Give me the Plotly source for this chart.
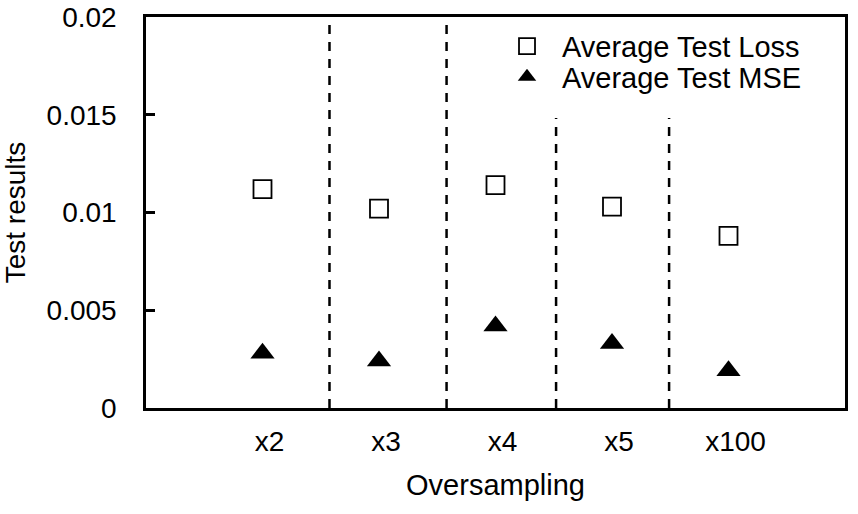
import plotly.graph_objects as go

categories = ["x2", "x3", "x4", "x5", "x100"]
avg_test_loss = [0.0112, 0.0102, 0.0114, 0.0103, 0.0088]
avg_test_mse = [0.0028, 0.0024, 0.0042, 0.0033, 0.0019]
y_tick_vals = [0, 0.005, 0.01, 0.015, 0.02]
y_tick_text = ["0", "0.005", "0.01", "0.015", "0.02"]
# separator positions (between categories, in category units) and their top y
separators_x = [1.575, 2.58, 3.52, 4.49]
separators_top = [0.02, 0.02, 0.01483, 0.01483]

xpos = list(range(1, len(categories) + 1))
FONT = "Liberation Sans, Arial, sans-serif"

fig = go.Figure()
fig.add_trace(go.Scatter(
    x=xpos, y=avg_test_loss, mode="markers", name="Average Test Loss",
    marker=dict(symbol="square-open", size=18, color="black", line=dict(width=1.8, color="black")),
    legend="legend",
))
fig.add_trace(go.Scatter(
    x=xpos, y=avg_test_mse, mode="markers", name="Average Test MSE",
    marker=dict(symbol="triangle-up", size=21, color="black", line=dict(width=0)),
    legend="legend2",
))

for sx, st in zip(separators_x, separators_top):
    fig.add_shape(type="line", xref="x", yref="y", x0=sx, x1=sx, y0=0, y1=st,
                  line=dict(color="black", width=2.5, dash="9px,8px"), layer="below")

legend_common = dict(
    font=dict(family=FONT, size=29, color="black"),
    bgcolor="rgba(0,0,0,0)", borderwidth=0, xanchor="left", yanchor="middle",
    itemwidth=60, itemclick=False,
)
fig.update_layout(
    width=858, height=514,
    margin=dict(l=146, r=13, t=17, b=106),
    paper_bgcolor="white", plot_bgcolor="white",
    font=dict(family=FONT, size=28, color="black"),
    showlegend=True,
    legend=dict(x=0.495, y=0.925, **legend_common),
    legend2=dict(x=0.495, y=0.847, **legend_common),
    xaxis=dict(
        range=[0, 6], tickvals=xpos, ticktext=categories, automargin=False,
        showline=True, linecolor="black", linewidth=2.5, mirror=True,
        showgrid=False, zeroline=False, ticks="",
        ticklabelstandoff=7, ticklabelshift=7, ticklabeloverflow="allow",
        tickfont=dict(family=FONT, size=28, color="black"),
        title=dict(text="Oversampling", font=dict(family=FONT, size=29, color="black"), standoff=19),
    ),
    yaxis=dict(
        range=[0, 0.02], tickvals=y_tick_vals, ticktext=y_tick_text, automargin=False,
        showline=True, linecolor="black", linewidth=2.5, mirror=True,
        showgrid=False, zeroline=False, ticks="inside", ticklen=9, tickwidth=2.5, tickcolor="black",
        ticklabelstandoff=21, ticklabeloverflow="allow",
        tickfont=dict(family=FONT, size=28, color="black"),
        title=dict(text="Test results", font=dict(family=FONT, size=28, color="black"), standoff=20),
    ),
)

fig.write_html("out.html", config={"displayModeBar": False},
               post_script="document.body.style.margin='0';")
